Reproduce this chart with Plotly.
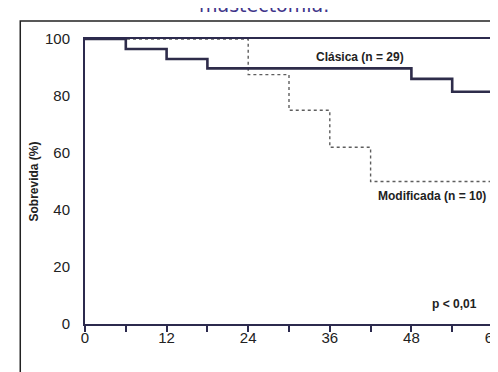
import plotly.graph_objects as go

# Kaplan-Meier survival data (months, % survival)
clasica_meses = [0, 6, 12, 18, 48, 54, 60]
clasica_surv = [100, 96.5, 93, 89.7, 86, 81.5, 81.5]

modif_meses = [0, 24, 30, 36, 42, 60]
modif_surv = [100, 87.5, 75, 62, 50, 50]

x_tickvals = [0, 6, 12, 18, 24, 30, 36, 42, 48, 54, 60]
x_ticktext = ["0", "", "12", "", "24", "", "36", "", "48", "", "60"]
y_tickvals = [0, 20, 40, 60, 80, 100]

AXC = "#2c2a4e"

fig = go.Figure()
fig.add_trace(go.Scatter(x=modif_meses, y=modif_surv, mode="lines",
                         line=dict(shape="hv", color="#5e5e5e", width=1.4, dash="dot"),
                         showlegend=False, hoverinfo="skip"))
fig.add_trace(go.Scatter(x=clasica_meses, y=clasica_surv, mode="lines",
                         line=dict(shape="hv", color="#2e2c4a", width=2.6),
                         showlegend=False, hoverinfo="skip"))

fig.update_layout(
    width=498, height=372,
    margin=dict(l=77, r=5, t=31, b=56),
    paper_bgcolor="white", plot_bgcolor="white",
    font=dict(family="Liberation Sans, Arial, sans-serif", color="#222"),
    xaxis=dict(range=[0, 60], tickvals=x_tickvals, ticktext=x_ticktext,
               showgrid=False, zeroline=False, showline=True, linecolor=AXC,
               linewidth=2, mirror=True, ticks="outside", ticklen=6, tickwidth=1.5,
               tickcolor=AXC, tickfont=dict(size=15, color="#222"),
               ticklabeloverflow="allow", ticklabelstandoff=-7),
    yaxis=dict(range=[0, 100], tickvals=y_tickvals,
               showgrid=False, zeroline=False, showline=True, linecolor=AXC,
               linewidth=2, mirror=True, ticks="", ticklabelstandoff=10,
               tickfont=dict(size=15, color="#222")),
)

fig.add_shape(type="rect", xref="paper", yref="paper",
              x0=(11 - 77) / 416, x1=1.05, y0=-0.4, y1=1 + (31 - 13) / 285,
              line=dict(color="#222", width=1.5), fillcolor="rgba(0,0,0,0)", layer="below")

bold = dict(family="Liberation Sans, Arial, sans-serif", size=12, color="#222")
fig.add_annotation(x=40.4, y=93.7, text="<b>Clásica (n = 29)</b>", showarrow=False, font=bold)
fig.add_annotation(x=51.1, y=44.9, text="<b>Modificada (n = 10)</b>", showarrow=False, font=bold)
fig.add_annotation(x=54.4, y=7, text="<b>p < 0,01</b>", showarrow=False, font=bold)
fig.add_annotation(xref="paper", yref="paper", x=0.4928, y=-(370 - 316) / 285,
                   text="<b>MESES</b>", showarrow=False, font=bold, yanchor="middle")
fig.add_annotation(xref="paper", yref="paper", x=(24 - 77) / 416, y=0.5,
                   text="<b>Sobrevida (%)</b>", showarrow=False, font=bold,
                   textangle=-90, xanchor="center")
fig.add_annotation(xref="paper", yref="paper", x=0.4375, y=1 + (31 - 10) / 285,
                   text="mastectomía.", showarrow=False, yanchor="bottom",
                   font=dict(family="DejaVu Sans, Verdana, sans-serif", size=19, color="#3f358a"))

fig.write_html("out.html")
